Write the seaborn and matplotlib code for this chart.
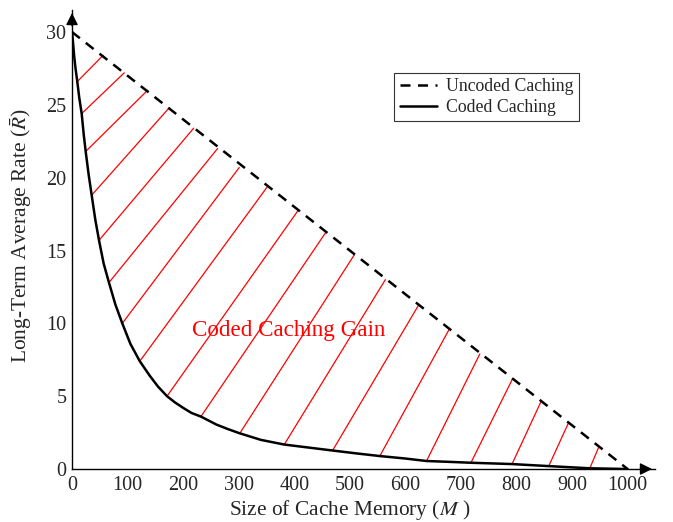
import numpy as np
import pandas as pd
import matplotlib
matplotlib.use("Agg")
import matplotlib.pyplot as plt
import seaborn as sns

# memory sizes and rates
uncoded_M = [0, 1000]
uncoded_R = [30, 0]

coded_M = [0, 2, 4, 6, 9.5, 13, 17.4, 21, 24.6, 30, 35.4, 42, 48.6, 57, 66.5, 78, 90.5,
           105, 122, 140, 155, 171, 185, 200, 215, 232, 260, 280, 302, 340, 382, 420,
           469, 510, 554, 600, 638, 680, 718, 760, 792, 858, 932, 1000]
coded_R = [30, 29.2, 28.3, 27.6, 26.6, 25.5, 24.4, 23.0, 21.8, 20.2, 18.8, 17.1, 15.7, 14.1,
           12.8, 11.3, 10.0, 8.6, 7.4, 6.4, 5.65, 5.0, 4.58, 4.2, 3.85, 3.6, 3.05, 2.75,
           2.45, 2.0, 1.68, 1.5, 1.27, 1.08, 0.89, 0.72, 0.55, 0.49, 0.43, 0.38, 0.34,
           0.2, 0.05, 0]

# red "gain" hatch segments: start on coded curve, end on uncoded line
hatch_M0 = [9.5, 17.4, 24.6, 35.4, 48.6, 66.5, 90.5, 122, 171, 232,
            302, 382, 469, 554, 638, 718, 792, 858, 932]
hatch_R0 = [26.6, 24.4, 21.8, 18.8, 15.7, 12.8, 10.0, 7.4, 5.0, 3.6,
            2.45, 1.68, 1.27, 0.89, 0.55, 0.43, 0.34, 0.2, 0.05]
hatch_M1 = [56, 94, 136, 175, 219, 262, 301, 352, 406, 456,
            508, 564, 623, 679, 734, 793, 845, 894, 948]
hatch_R1 = [28.4, 27.2, 26.0, 24.8, 23.4, 22.0, 20.7, 19.4, 17.7, 16.2,
            14.7, 13.0, 11.2, 9.6, 7.9, 6.2, 4.7, 3.2, 1.5]

sns.set_style("white")
plt.rcParams["font.family"] = ["Liberation Serif", "DejaVu Serif"]
plt.rcParams["mathtext.fontset"] = "stix"

fig = plt.figure(figsize=(6.73, 5.22), dpi=100)
ax = fig.add_axes([0.107, 0.1015, 0.866, 0.879])

for m0, r0, m1, r1 in zip(hatch_M0, hatch_R0, hatch_M1, hatch_R1):
    ax.plot([m0, m1], [r0, r1], color="red", lw=0.9, zorder=1)

df_unc = pd.DataFrame({"M": uncoded_M, "R": uncoded_R})
df_cod = pd.DataFrame({"M": coded_M, "R": coded_R})
sns.lineplot(data=df_unc, x="M", y="R", ax=ax, color="black", lw=1.8,
             linestyle=(0, (4, 3)), label="Uncoded Caching", zorder=3)
sns.lineplot(data=df_cod, x="M", y="R", ax=ax, color="black", lw=1.8,
             label="Coded Caching", zorder=3)

ax.text(390, 9.5, "Coded Caching Gain", color="red", fontsize=16.6,
        ha="center", va="center")

ax.set_xlim(0, 1049)
ax.set_ylim(0, 31.5)
ax.set_xticks(range(0, 1001, 100))
ax.set_yticks(range(0, 31, 5))
ax.tick_params(direction="in", length=4, color="#555555", labelsize=14.5)
ax.tick_params(axis="x", pad=5)
ax.tick_params(axis="y", pad=4)
ax.set_xlabel("Size of Cache Memory ($M$ )", fontsize=15.4)
ax.set_ylabel(r"Long-Term Average Rate ($\bar{R}$)", fontsize=15.4)
ax.xaxis.set_label_coords(500 / 1049, -0.063)
ax.yaxis.set_label_coords(-0.066, 0.508)

for s in ["top", "right"]:
    ax.spines[s].set_visible(False)
for s in ["left", "bottom"]:
    ax.spines[s].set_color("black")
    ax.spines[s].set_linewidth(1.0)

ax.annotate("", xy=(1, 0), xytext=(0.97, 0), xycoords="axes fraction",
            arrowprops=dict(arrowstyle="-|>", color="black", lw=1.0, mutation_scale=18))
ax.annotate("", xy=(0, 1), xytext=(0, 0.96), xycoords="axes fraction",
            arrowprops=dict(arrowstyle="-|>", color="black", lw=1.0, mutation_scale=18))

leg = ax.legend(loc="upper right", bbox_to_anchor=(0.8696, 0.863), borderaxespad=0,
                fontsize=12.8, frameon=True, fancybox=False, handlelength=2.1,
                borderpad=0.3, labelspacing=0.2, handletextpad=0.5)
leg.get_frame().set_edgecolor("black")
leg.get_frame().set_linewidth(0.8)

fig.savefig("out.png", dpi=100)
